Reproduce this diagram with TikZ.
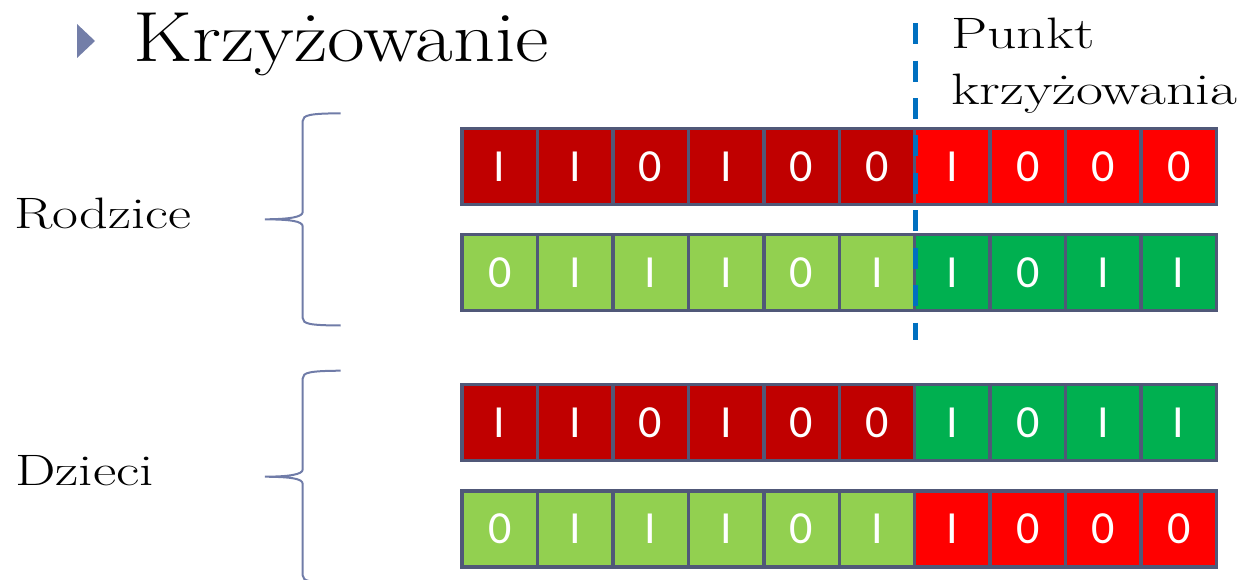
\documentclass[tikz,border=0pt]{standalone}
\usepackage{fontspec}
\usepackage{graphicx}
\newfontfamily\cellfont{Carlito}
\definecolor{cellborder}{RGB}{80,88,120}
\definecolor{darkred}{RGB}{192,0,0}
\definecolor{brightred}{RGB}{255,0,0}
\definecolor{lightgreen}{RGB}{146,208,80}
\definecolor{darkgreen}{RGB}{0,176,80}
\definecolor{bracecol}{RGB}{112,124,168}
\definecolor{bulletcol}{RGB}{115,126,168}
\definecolor{cutcol}{RGB}{0,112,192}
\begin{document}
\begin{tikzpicture}[x=1pt,y=-1pt,
  cell/.style={draw=cellborder, line width=3.4pt, minimum width=75.45pt, minimum height=76pt,
    inner sep=0pt, text=white, font=\cellfont\fontsize{46}{46}\selectfont},
  bigtitle/.style={anchor=base west, inner sep=0pt, font=\fontsize{71}{80}\selectfont},
  label/.style={anchor=base west, inner sep=0pt, font=\fontsize{44}{50}\selectfont},
  bracestyle/.style={draw=bracecol, line width=2pt},
  cutline/.style={draw=cutcol, line width=5pt, dash pattern=on 21pt off 16.4pt}]
\useasboundingbox (0,0) rectangle (1245,580);

% bullet and title
\fill[bulletcol] (77,24) -- (95,41) -- (77,58) -- cycle;
\node[bigtitle] (title) at (133,61.7) {\scalebox{1.155}[1]{Krzyżowanie}};

% labels
\node[label] (punkt) at (951,48.3) {\scalebox{1.31}[1]{Punkt}};
\node[label] (krz) at (951,105) {\scalebox{1.33}[1]{krzyżowania}};
\node[label] (rodzice) at (14,228.3) {\scalebox{1.28}[1]{Rodzice}};
\node[label] (dzieci) at (15,485) {\scalebox{1.30}[1]{Dzieci}};

% braces
\draw[bracestyle] (340.7,113.3) .. controls (310,113.5) and (302.7,115) .. (302.7,121)
  -- (302.7,212) .. controls (302.7,217) and (290,219.2) .. (265,219.3)
  .. controls (290,219.5) and (302.7,221) .. (302.7,226.5)
  -- (302.7,318) .. controls (302.7,324) and (310,325.3) .. (340.7,325.5);
\draw[bracestyle] (340.7,370.7) .. controls (310,370.9) and (302.7,372.4) .. (302.7,378.4)
  -- (302.7,469.4) .. controls (302.7,474.4) and (290,476.6) .. (265,476.7)
  .. controls (290,476.9) and (302.7,478.4) .. (302.7,483.9)
  -- (302.7,575.4) .. controls (302.7,581.4) and (310,582.7) .. (340.7,582.9);

% chromosomes
\foreach \b [count=\i] in {I,I,0,I,0,0,I,0,0,0} {
  \ifnum\i<7 \def\c{darkred}\else\def\c{brightred}\fi
  \node[cell, fill=\c] (a\i) at ({462+(\i-0.5)*75.45},166.5) {\b};
}
\foreach \b [count=\i] in {0,I,I,I,0,I,I,0,I,I} {
  \ifnum\i<7 \def\c{lightgreen}\else\def\c{darkgreen}\fi
  \node[cell, fill=\c] (b\i) at ({462+(\i-0.5)*75.45},272.5) {\b};
}
\foreach \b [count=\i] in {I,I,0,I,0,0,I,0,I,I} {
  \ifnum\i<7 \def\c{darkred}\else\def\c{darkgreen}\fi
  \node[cell, fill=\c] (c\i) at ({462+(\i-0.5)*75.45},422.5) {\b};
}
\foreach \b [count=\i] in {0,I,I,I,0,I,I,0,0,0} {
  \ifnum\i<7 \def\c{lightgreen}\else\def\c{brightred}\fi
  \node[cell, fill=\c] (d\i) at ({462+(\i-0.5)*75.45},529) {\b};
}

% crossover point
\coordinate (cuttop) at (915,23.3);
\coordinate (cutbot) at (915,340);
\draw[cutline] (cuttop) -- (cutbot);
\end{tikzpicture}
\end{document}
